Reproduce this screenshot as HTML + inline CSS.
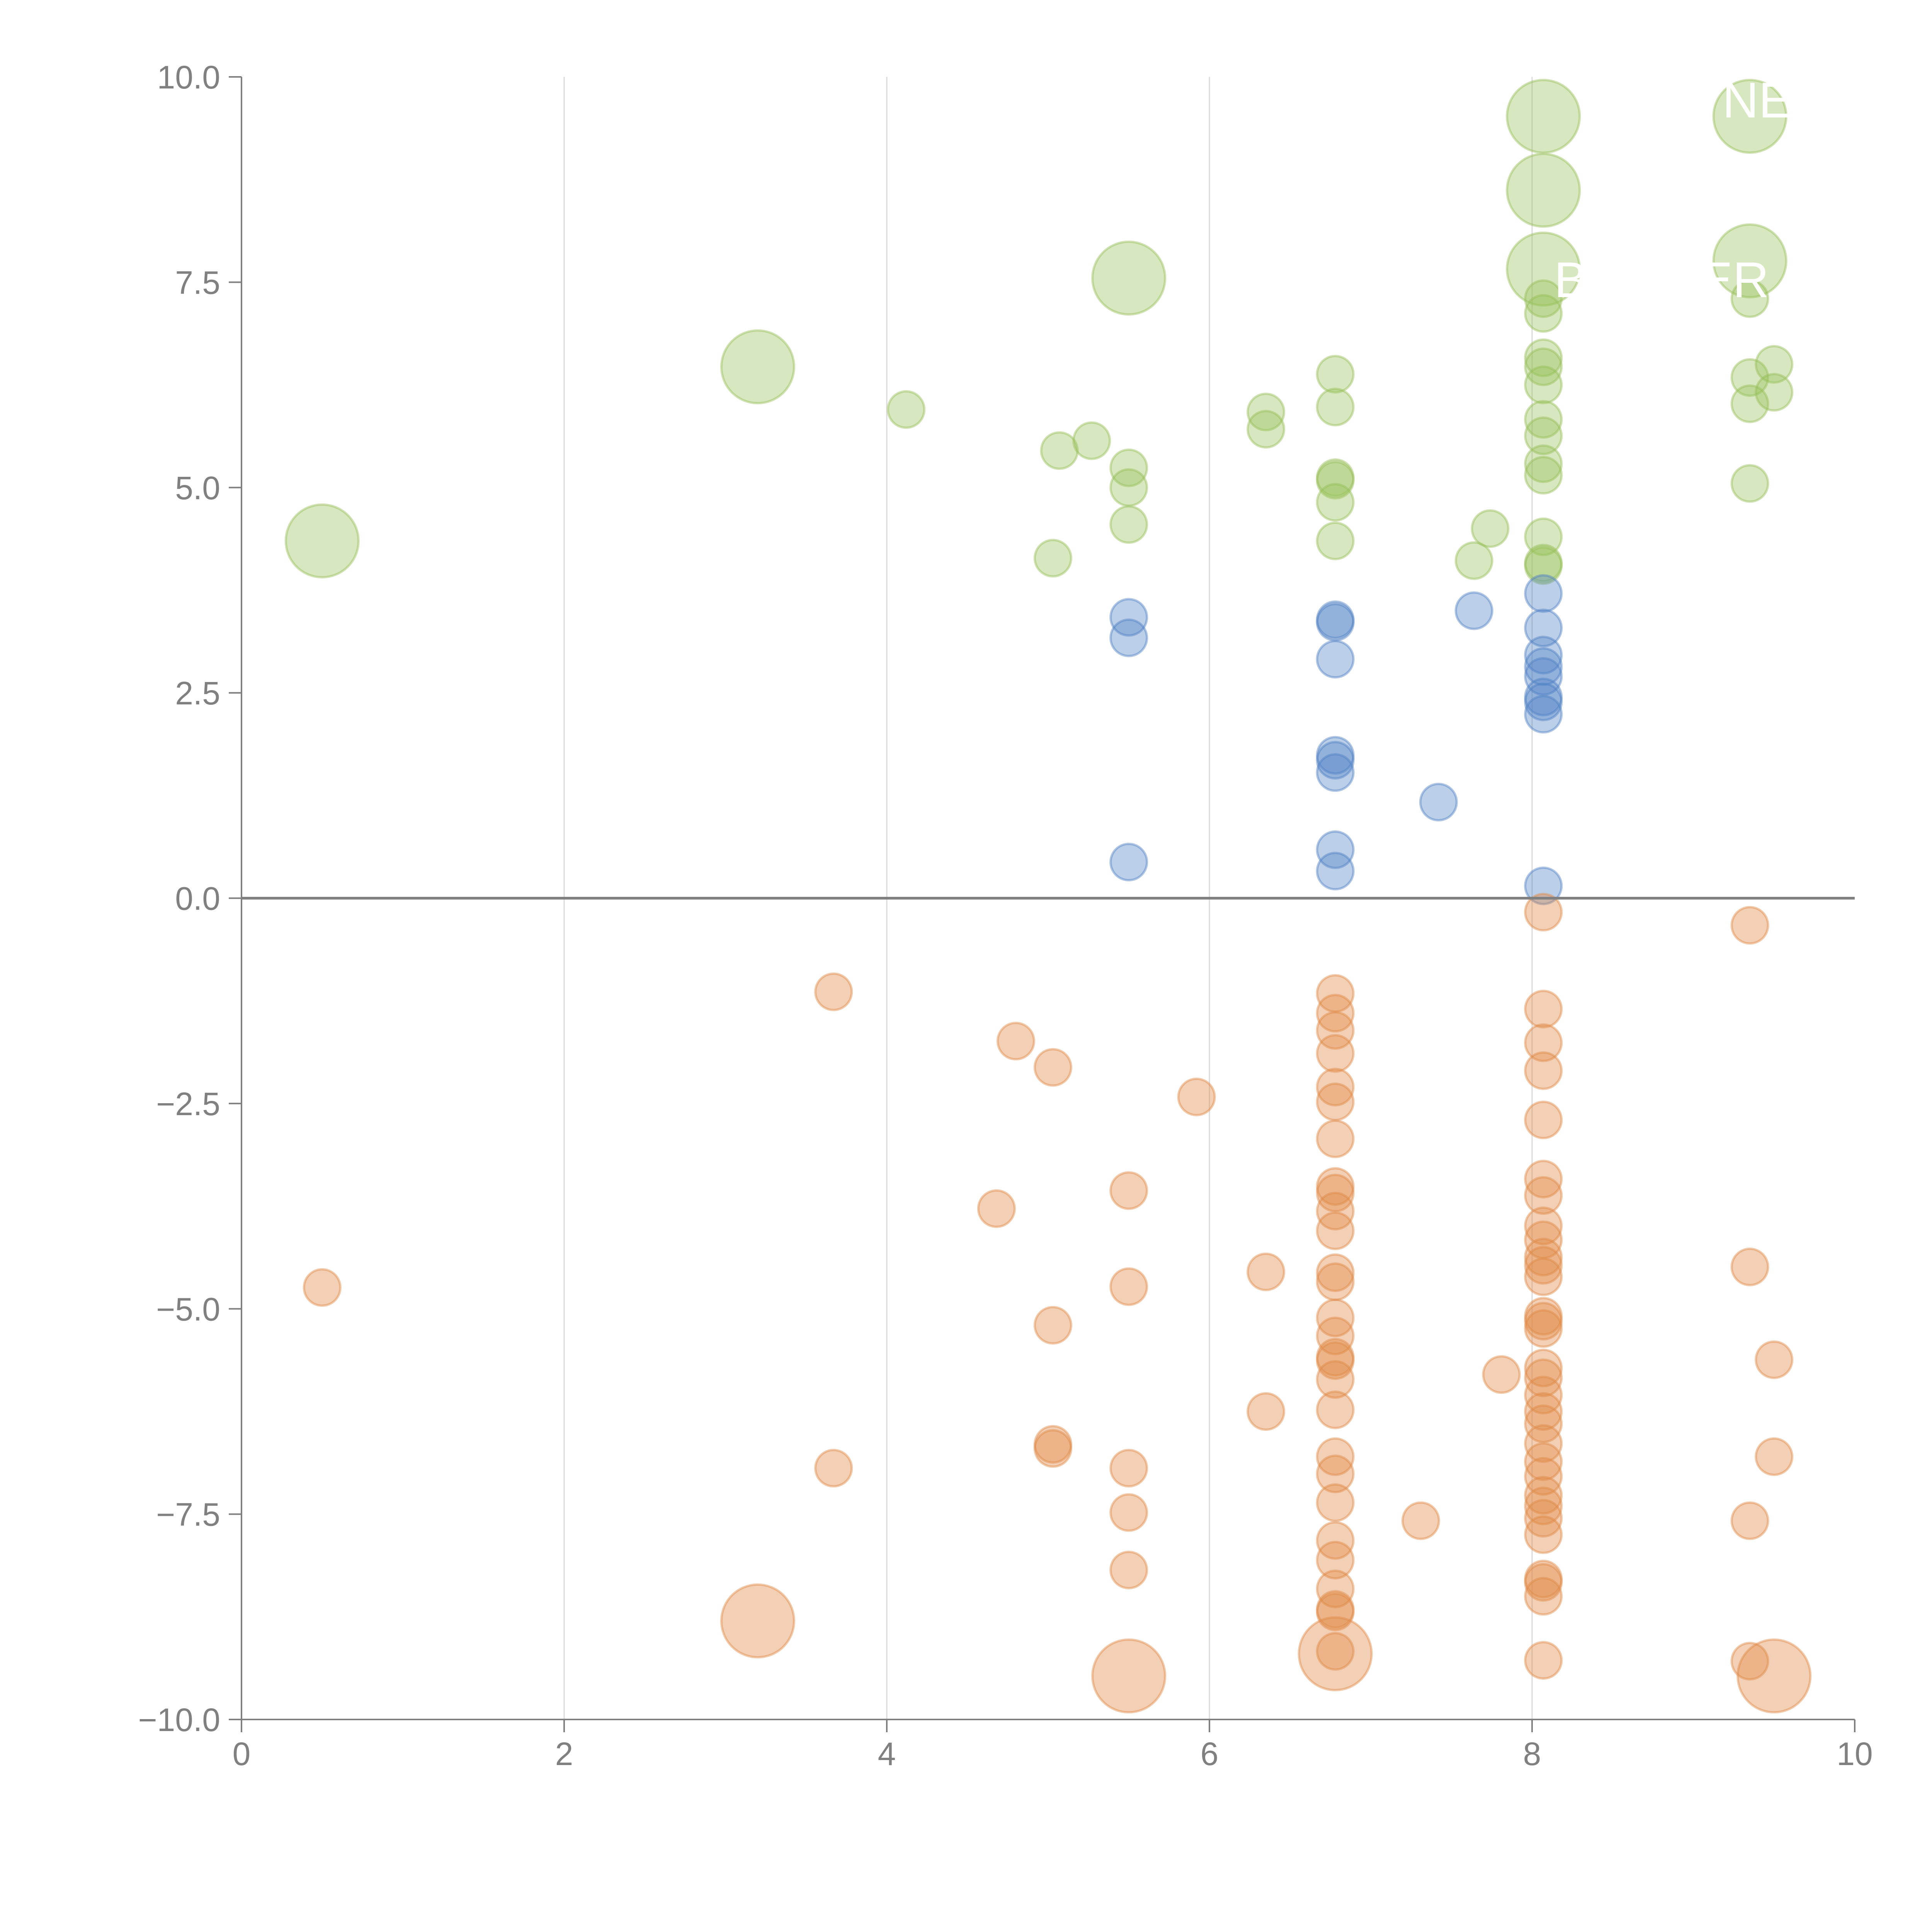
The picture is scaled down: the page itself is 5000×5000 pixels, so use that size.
<!DOCTYPE html>
<html><head><meta charset="utf-8"><style>
html,body{margin:0;padding:0;background:#fff}
svg{display:block;font-family:"Liberation Sans",Arial,sans-serif}
</style></head><body>
<svg id="chart" width="5000" height="5000" viewBox="0 0 5000 5000" xmlns="http://www.w3.org/2000/svg">
<rect width="5000" height="5000" fill="#fff"/>
<g id="grid"></g>
<g id="marks"></g>
<g id="axes"></g>
</svg>
<script>
const xTicks = [0,2,4,6,8,10];
const yTicks = [-10,-7.5,-5,-2.5,0,2.5,5,7.5,10];
const yTickLabels = ["\u221210.0","\u22127.5","\u22125.0","\u22122.5","0.0","2.5","5.0","7.5","10.0"];

const greenX = [0.5,3.2,4.12,5.07,5.27,5.03,5.5,5.5,5.5,5.5,6.35,6.35,6.78,6.78,6.78,6.78,6.78,6.78,7.64,7.74,8.07,8.07,8.07,8.07,8.07,8.07,8.07,8.07,8.07,8.07,8.07,8.07,8.07,8.07,8.07,9.35,9.35,9.35,9.35,9.35,9.35,9.5,9.5];
const greenY = [4.35,6.47,5.95,5.45,5.57,4.14,7.55,5.24,5.0,4.55,5.92,5.71,6.38,5.98,5.12,5.09,4.82,4.35,4.11,4.50,9.52,8.62,7.66,7.3,7.12,6.58,6.47,6.25,5.83,5.63,5.29,5.15,4.40,4.08,4.05,9.52,7.76,7.3,6.34,6.02,5.05,6.50,6.16];
const greenSize = [4,4,1,1,1,1,4,1,1,1,1,1,1,1,1,1,1,1,1,1,4,4,4,1,1,1,1,1,1,1,1,1,1,1,1,4,4,1,1,1,1,1,1];

const blueX = [5.5,5.5,5.5,6.78,6.78,6.78,6.78,6.78,6.78,6.78,6.78,7.42,7.64,8.07,8.07,8.07,8.07,8.07,8.07,8.07,8.07,8.07];
const blueY = [3.42,3.17,0.44,3.39,3.36,2.91,1.74,1.68,1.53,0.59,0.33,1.17,3.50,3.71,3.29,2.96,2.82,2.70,2.45,2.39,2.24,0.15];
const blueSize = [1,1,1,1,1,1,1,1,1,1,1,1,1,1,1,1,1,1,1,1,1,1];

const orangeX = [0.5,3.2,3.67,3.67,4.8,5.03,4.68,5.03,5.03,5.03,5.92,5.5,5.5,5.5,5.5,5.5,5.5,6.35,6.35,
 6.78,6.78,6.78,6.78,6.78,6.78,6.78,6.78,6.78,6.78,6.78,6.78,6.78,6.78,6.78,6.78,6.78,6.78,6.78,6.78,6.78,6.78,6.78,6.78,6.78,6.78,6.78,6.78,6.78,
 7.31,7.81,
 8.07,8.07,8.07,8.07,8.07,8.07,8.07,8.07,8.07,8.07,8.07,8.07,8.07,8.07,8.07,8.07,8.07,8.07,8.07,8.07,8.07,8.07,8.07,8.07,8.07,8.07,8.07,8.07,8.07,8.07,8.07,
 9.35,9.35,9.35,9.35,9.5,9.5,9.5];
const orangeY = [-4.74,-8.8,-1.14,-6.94,-1.74,-2.06,-3.78,-5.2,-6.65,-6.7,-2.42,-3.56,-4.73,-6.94,-7.48,-8.18,-9.47,-4.55,-6.25,
 -1.16,-1.40,-1.61,-1.89,-2.30,-2.48,-2.93,-3.51,-3.59,-3.81,-4.05,-4.56,-4.67,-5.11,-5.33,-5.59,-5.63,-5.86,-6.23,-6.80,-7.01,-7.36,-7.82,-8.06,-8.41,-8.66,-8.69,-9.17,-9.2,
 -7.58,-5.80,
 -0.17,-1.35,-1.76,-2.10,-2.70,-3.42,-3.62,-3.99,-4.16,-4.37,-4.47,-4.61,-5.09,-5.15,-5.24,-5.72,-5.84,-6.05,-6.25,-6.40,-6.64,-6.86,-7.04,-7.27,-7.40,-7.55,-7.75,-8.29,-8.33,-8.50,-9.28,
 -0.33,-4.49,-7.58,-9.29,-5.62,-6.80,-9.47];
const orangeSize = [1,4,1,1,1,1,1,1,1,1,1,1,1,1,1,1,4,1,1,
 1,1,1,1,1,1,1,1,1,1,1,1,1,1,1,1,1,1,1,1,1,1,1,1,1,1,1,1,4,
 1,1,
 1,1,1,1,1,1,1,1,1,1,1,1,1,1,1,1,1,1,1,1,1,1,1,1,1,1,1,1,1,1,1,
 1,1,1,1,1,1,4];

const NS = "http://www.w3.org/2000/svg";
const X0 = 625, X1 = 4800, Ytop = 199, Ybot = 4450;
function sx(v){ return X0 + (v - 0) / 10 * (X1 - X0); }
function sy(v){ return Ybot - (v + 10) / 20 * (Ybot - Ytop); }
function sr(s){ return 48 * Math.sqrt(s) * 0.98; }
function mk(tag, attrs, parent){
  const el = document.createElementNS(NS, tag);
  for (const k in attrs) el.setAttribute(k, attrs[k]);
  parent.appendChild(el);
  return el;
}
const grid = document.getElementById('grid');
const marks = document.getElementById('marks');
const axes = document.getElementById('axes');

xTicks.forEach(t => {
  if (t === 0 || t === 10) return;
  const l = mk('line', {x1: sx(t), x2: sx(t), y1: Ytop, y2: Ybot, stroke: '#d9d9d9', 'stroke-width': 3}, grid);
  
  
});

function drawSeries(xs, ys, ss, fill, stroke, name){
  const g = mk('g', {}, marks);
  
  
  for (let i = 0; i < xs.length; i++){
    const c = mk('circle', {cx: sx(xs[i]), cy: sy(ys[i]), r: sr(ss[i]), fill: fill, stroke: stroke, 'stroke-width': 6}, g);
    
    
  }
}
drawSeries(greenX, greenY, greenSize, 'rgba(151,191,88,0.38)', 'rgba(151,191,88,0.45)', 'green');
drawSeries(blueX, blueY, blueSize, 'rgba(80,128,196,0.38)', 'rgba(80,128,196,0.45)', 'blue');
drawSeries(orangeX, orangeY, orangeSize, 'rgba(224,138,70,0.40)', 'rgba(224,138,70,0.45)', 'orange');

const zl = mk('line', {x1: X0, x2: X1, y1: sy(0), y2: sy(0), stroke: '#808080', 'stroke-width': 7}, axes);



const ya = mk('line', {x1: X0, x2: X0, y1: Ytop, y2: Ybot, stroke: '#808080', 'stroke-width': 4}, axes);


const xa = mk('line', {x1: X0, x2: X1, y1: Ybot, y2: Ybot, stroke: '#808080', 'stroke-width': 4}, axes);



yTicks.forEach((t, i) => {
  const tk = mk('line', {x1: X0 - 33, x2: X0, y1: sy(t), y2: sy(t), stroke: '#808080', 'stroke-width': 4}, axes);
  
  
  const tx = mk('text', {x: X0 - 55, y: sy(t) + 30, 'text-anchor': 'end', 'font-size': 84, fill: '#808080'}, axes);
  tx.textContent = yTickLabels[i];
  
  
});
xTicks.forEach(t => {
  const tk = mk('line', {x1: sx(t), x2: sx(t), y1: Ybot, y2: Ybot + 33, stroke: '#808080', 'stroke-width': 4}, axes);
  
  
  const tx = mk('text', {x: sx(t), y: 4568, 'text-anchor': 'middle', 'font-size': 84, fill: '#808080'}, axes);
  tx.textContent = String(t);
  
  
});

const t1 = mk('text', {x: 4638, y: 304, 'text-anchor': 'end', 'font-size': 130, fill: '#ffffff'}, axes);
t1.textContent = 'NE';


const t2 = mk('text', {x: 4022, y: 769, 'font-size': 130, fill: '#ffffff'}, axes);
t2.textContent = 'BUMPER';


</script>
</body></html>
